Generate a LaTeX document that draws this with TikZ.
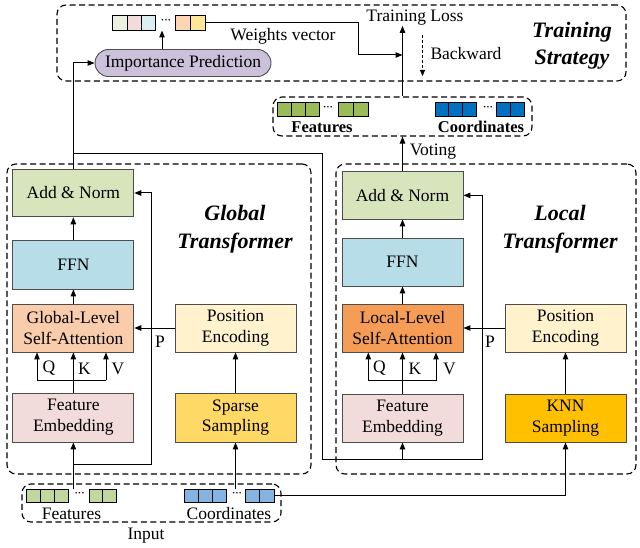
\documentclass[tikz,border=0pt]{standalone}
\usepackage{fontspec}
\setmainfont{Liberation Serif}
\usetikzlibrary{arrows.meta,calc}

% block fills
\definecolor{anfill}{HTML}{D8E4BC}
\definecolor{ffnfill}{HTML}{B7DEE8}
\definecolor{gsafill}{HTML}{F9CCAC}
\definecolor{lsafill}{HTML}{F59D56}
\definecolor{fefill}{HTML}{F2DCDB}
\definecolor{pefill}{HTML}{FFF2CC}
\definecolor{ssfill}{HTML}{FFD966}
\definecolor{knnfill}{HTML}{FFC000}
\definecolor{impfill}{HTML}{CCC1DA}
% vector cells
\definecolor{featdark}{HTML}{9BBB59}
\definecolor{coorddark}{HTML}{0070C0}
\definecolor{featlight}{HTML}{C3D69B}
\definecolor{coordlight}{HTML}{83B5E0}
\definecolor{wA}{HTML}{EBF1DE}
\definecolor{wB}{HTML}{F2DCDB}
\definecolor{wC}{HTML}{DAEEF3}
\definecolor{wD}{HTML}{FCD5B4}
\definecolor{wE}{HTML}{FFE699}

\tikzset{
  blk/.style={draw=black!70, line width=0.9pt, minimum width=121pt,
    minimum height=48pt, align=center, inner sep=0pt},
  grp/.style={draw=black, dash pattern=on 6pt off 3.5pt, line width=1.1pt,
    rounded corners=9pt, inner sep=0pt},
  arr/.style={-{Triangle[length=7pt,width=5.5pt]}, line width=1pt},
  ln/.style={line width=1pt},
  cell/.style={draw=black, line width=0.9pt, inner sep=0pt},
  dotsym/.style={inner sep=0pt, font=\fontsize{10}{10}\selectfont\bfseries},
  title/.style={align=center, font=\fontsize{22}{27.5}\selectfont\bfseries\itshape},
  lbl/.style={inner sep=0pt},
}

% a run of equal cells: prefix, left x, centre y, count, width, height, fill
\newcommand{\cellrun}[7]{%
  \foreach \k in {1,...,#4}{%
    \node[cell, fill=#7, minimum width=#5pt, minimum height=#6pt]
      (#1\k) at ({#2+(\k-0.5)*#5}, #3) {};
  }%
}

\begin{document}
\begin{tikzpicture}[x=1pt, y=-1pt, font=\fontsize{17.5}{20.7}\selectfont]
\useasboundingbox (0,0) rectangle (640,548);

% ---------- dashed groups ----------
\node[grp, minimum width=569pt, minimum height=76pt] (topbox) at (341.5,43) {};
\node[grp, minimum width=259pt, minimum height=39pt] (outbox) at (402.5,116.5) {};
\node[grp, minimum width=304pt, minimum height=310pt] (gbox) at (159,319) {};
\node[grp, minimum width=300pt, minimum height=310pt] (lbox) at (486,319) {};
\node[grp, minimum width=259pt, minimum height=38pt] (inbox) at (151.5,503) {};

% ---------- training strategy ----------
\node[draw=black!70, line width=0.9pt, fill=impfill, rounded corners=13.5pt,
  minimum width=176pt, minimum height=27pt, inner sep=0pt] (imp) at (183,63) {Importance Prediction};
\node[cell, fill=wA, minimum width=14.4pt, minimum height=15pt] (w1) at (119.9,22.5) {};
\node[cell, fill=wB, minimum width=14.4pt, minimum height=15pt] (w2) at (134.3,22.5) {};
\node[cell, fill=wC, minimum width=14.4pt, minimum height=15pt] (w3) at (148.7,22.5) {};
\node[dotsym] (wd) at (166,21.5) {···};
\node[cell, fill=wD, minimum width=15pt, minimum height=15pt] (w4) at (182.5,22.5) {};
\node[cell, fill=wE, minimum width=15pt, minimum height=15pt] (w5) at (197.5,22.5) {};
\node[lbl] (wvec) at (283,36) {Weights vector};
\node[lbl] (loss) at (415,18) {Training Loss};
\node[lbl] (bwd) at (466,54) {Backward};
\node[title] (ts) at (572,45.5) {Training\\Strategy};

\coordinate (wtip) at (162,30.5);
\coordinate (wbend) at (358,55);
\coordinate (wjoin) at (402.5,55);
\coordinate (bk1) at (422.5,35);
\coordinate (bk2) at (422.5,76);
\draw[arr] (wtip |- imp.north) -- (wtip);
\draw[arr] (w5.east) -| (wbend) -- (wjoin);
\draw[arr] (outbox.north) -- (outbox.north |- loss.south);
\draw[-{Triangle[length=6pt,width=5pt]}, line width=0.8pt, dash pattern=on 3pt off 2pt] (bk1) -- (bk2);

% ---------- voted output ----------
\cellrun{of}{277.3}{109.7}{3}{13.9}{14}{featdark}
\node[dotsym] (ofd) at (328,108.7) {···};
\cellrun{og}{338.6}{109.7}{2}{14.7}{14}{featdark}
\cellrun{oc}{435}{109.7}{3}{13.9}{14}{coorddark}
\node[dotsym] (ocd) at (488,108.7) {···};
\cellrun{od}{496}{109.7}{2}{14}{14}{coorddark}
\node[lbl, font=\fontsize{16.5}{19}\selectfont\bfseries] (oflab) at (322,127) {Features};
\node[lbl, font=\fontsize{16.5}{19}\selectfont\bfseries] (oclab) at (481,127) {Coordinates};

% ---------- global transformer ----------
\node[blk, fill=anfill, minimum height=47.7pt] (gan) at (73.35,193) {Add \& Norm};
\node[blk, fill=ffnfill, minimum height=49pt] (gffn) at (73.35,264.5) {FFN};
\node[blk, fill=gsafill] (gsa) at (73.35,328) {Global-Level\\Self-Attention};
\node[blk, fill=fefill, minimum height=49pt] (gfe) at (73.35,417.5) {Feature\\Embedding};
\node[blk, fill=pefill] (gpe) at (235.5,328) {Position\\Encoding};
\node[blk, fill=ssfill, minimum height=49pt] (gss) at (235.5,417.5) {Sparse\\Sampling};
\node[title] (gt) at (235,229) {Global\\Transformer};

\draw[arr] (gffn.north) -- (gan.south);
\draw[arr] (gsa.north) -- (gffn.south);
\coordinate (gq) at (37,380);
\coordinate (gv) at (106,380);
\draw[arr] (gfe.north) -- (gsa.south);
\draw[ln] (gq) -- (gv);
\draw[arr] (gq) -- (gq |- gsa.south);
\draw[arr] (gv) -- (gv |- gsa.south);
\node[lbl] (gql) at (49,368.5) {Q};
\node[lbl] (gkl) at (84.5,368.5) {K};
\node[lbl] (gvl) at (118,368.5) {V};
\draw[arr] (gpe.west) -- (gsa.east);
\node[lbl] (gp) at (160,342) {P};
\draw[arr] (gss.north) -- (gpe.south);

% ---------- local transformer ----------
\node[blk, fill=anfill, minimum height=47.3pt] (lan) at (402.5,195.4) {Add \& Norm};
\node[blk, fill=ffnfill] (lffn) at (402.5,262) {FFN};
\node[blk, fill=lsafill] (lsa) at (402.5,328) {Local-Level\\Self-Attention};
\node[blk, fill=fefill] (lfe) at (402.5,418) {Feature\\Embedding};
\node[blk, fill=pefill] (lpe) at (565.5,328) {Position\\Encoding};
\node[blk, fill=knnfill] (lknn) at (565.5,418) {KNN\\Sampling};
\node[title] (lt) at (560,229) {Local\\Transformer};

\draw[arr] (lffn.north) -- (lan.south);
\draw[arr] (lsa.north) -- (lffn.south);
\coordinate (lq) at (368.3,380.5);
\coordinate (lv) at (436,380.5);
\draw[arr] (lfe.north) -- (lsa.south);
\draw[ln] (lq) -- (lv);
\draw[arr] (lq) -- (lq |- lsa.south);
\draw[arr] (lv) -- (lv |- lsa.south);
\node[lbl] (lql) at (379.5,368.5) {Q};
\node[lbl] (lkl) at (415,368.5) {K};
\node[lbl] (lvl) at (449.5,368.5) {V};
\draw[arr] (lpe.west) -- (lsa.east);
\node[lbl] (lp) at (490,342) {P};
\draw[arr] (lknn.north) -- (lpe.south);

% ---------- input ----------
\cellrun{if}{26.5}{495.5}{3}{14}{13}{featlight}
\node[dotsym] (ifd) at (79.6,494.5) {···};
\cellrun{ig}{89}{495.5}{2}{13.5}{13}{featlight}
\cellrun{ic}{184}{495.5}{3}{14.3}{13}{coordlight}
\node[dotsym] (icd) at (237,494.5) {···};
\cellrun{id}{245.5}{495.5}{2}{14.3}{13}{coordlight}
\node[lbl] (iflab) at (71.5,513.5) {Features};
\node[lbl] (iclab) at (229,513.5) {Coordinates};
\node[lbl] (inlab) at (146,536) {Input};

% ---------- cross connections ----------
\coordinate (fin) at (73.35,489);
\coordinate (cin) at (235.5,489);
\coordinate (gres) at (73.35,464);
\coordinate (gsplit) at (73.35,154);
\coordinate (lbend) at (322,459);
\coordinate (lres) at (402.5,459);
\coordinate (lcorner) at (482,459);

\draw[arr] (fin) -- (gfe.south);
\draw[arr] (cin) -- (gss.south);
\draw[arr] (gres) -- ++(78.6,0) |- (gan.east);
\draw[arr] (gan.north) |- (imp.west);
\draw[arr] (gsplit) -| (lbend) -- (lcorner) |- (lan.east);
\draw[arr] (lres) -- (lfe.south);
\draw[arr] (id2.east) -| (lknn.south);
\draw[arr] (lan.north) -- (outbox.south);
\node[lbl] (vote) at (433,152) {Voting};
\end{tikzpicture}
\end{document}
